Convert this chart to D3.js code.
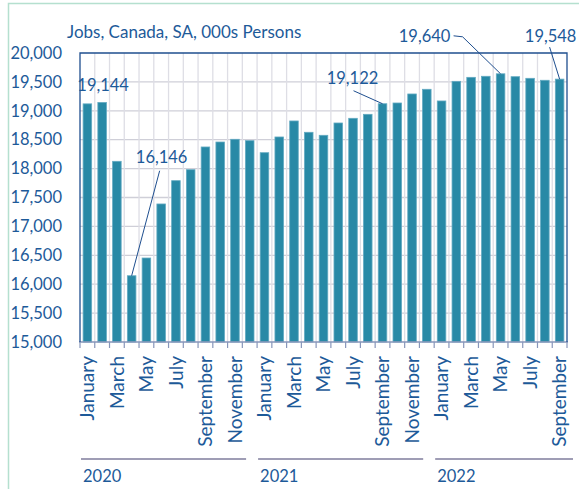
<!DOCTYPE html>
<meta charset="utf-8">
<style>
  body { margin: 0; background: #fff; }
  text { font-family: Lato, "Open Sans", sans-serif; fill: #1d5a99; }
</style>
<svg width="579" height="489"></svg>
<script src="https://d3js.org/d3.v7.min.js"></script>
<script>
var title = "Jobs, Canada, SA, 000s Persons";
var years = ["2020", "2021", "2022"];
var monthNames = ["January", "February", "March", "April", "May", "June",
  "July", "August", "September", "October", "November", "December"];
var jobs2020 = [19120, 19144, 18126, 16146, 16453, 17388, 17791, 17981, 18374, 18460, 18507, 18483];
var jobs2021 = [18275, 18547, 18824, 18628, 18576, 18789, 18870, 18939, 19122, 19135, 19291, 19372];
var jobs2022 = [19170, 19510, 19579, 19597, 19640, 19590, 19562, 19528, 19548];
var yTicks = d3.range(15000, 20001, 500);
var labelled = [1, 3, 20, 28, 32];

// flatten into one list of months
var data = [];
[jobs2020, jobs2021, jobs2022].forEach(function(arr, yi) {
  arr.forEach(function(v, mi) {
    data.push({ key: years[yi] + "-" + mi, year: years[yi], month: monthNames[mi], mi: mi, value: v });
  });
});

var svg = d3.select("svg"),
    margin = { top: 53, right: 12, bottom: 147, left: 80 },
    W = +svg.attr("width"), H = +svg.attr("height"),
    width = W - margin.left - margin.right,
    height = H - margin.top - margin.bottom;

// outer frame
svg.append("path")
    .attr("d", "M8.5," + H + "V3.5H" + W)
    .attr("fill", "none").attr("stroke", "#b5e0cf").attr("stroke-width", 1.5);

svg.append("text")
    .attr("x", 67).attr("y", 38)
    .style("font-size", "17px")
    .text(title);

var g = svg.append("g").attr("transform", "translate(" + margin.left + "," + margin.top + ")");

var x = d3.scaleBand().domain(data.map(function(d) { return d.key; })).range([0, width]).paddingInner(0.42).paddingOuter(0.21);
var y = d3.scaleLinear().domain([15000, 20000]).range([height, 0]);
var step = x.step();

// grid
g.selectAll(".hgrid").data(yTicks.slice(1, -1)).enter().append("line")
    .attr("x1", 0).attr("x2", width)
    .attr("y1", function(d) { return y(d); }).attr("y2", function(d) { return y(d); })
    .attr("stroke", "#cfcfd8").attr("stroke-width", 1.3);
g.selectAll(".vgrid").data(d3.range(1, data.length)).enter().append("line")
    .attr("x1", function(i) { return i * step; }).attr("x2", function(i) { return i * step; })
    .attr("y1", 0).attr("y2", height)
    .attr("stroke", "#dedee5").attr("stroke-width", 1.3);

// bars
g.selectAll(".bar").data(data).enter().append("rect")
    .attr("x", function(d) { return x(d.key); })
    .attr("width", x.bandwidth())
    .attr("y", function(d) { return y(d.value); })
    .attr("height", function(d) { return height - y(d.value); })
    .attr("fill", "#2889a6")
    .attr("stroke", "#63aac2").attr("stroke-width", 0.8);

// y axis
var yAxis = g.append("g")
    .call(d3.axisLeft(y).tickValues(yTicks).tickSize(0).tickPadding(18).tickFormat(d3.format(",")));
yAxis.select(".domain").remove();
yAxis.selectAll("text").style("font-size", "16.5px").style("font-family", "Lato").attr("fill", "#1d5a99");

// bottom axis + ticks
g.append("line").attr("x1", -1).attr("x2", width + 1).attr("y1", height).attr("y2", height)
    .attr("stroke", "#8796ba").attr("stroke-width", 1.5);
g.selectAll(".xtick").data(d3.range(0, data.length + 1)).enter().append("line")
    .attr("x1", function(i) { return i * step; }).attr("x2", function(i) { return i * step; })
    .attr("y1", height).attr("y2", height + 6)
    .attr("stroke", "#8796ba").attr("stroke-width", 1.2);

// plot border top/left/right
g.append("path")
    .attr("d", "M0," + height + "V0H" + width + "V" + height)
    .attr("fill", "none").attr("stroke", "#1f4f8f").attr("stroke-width", 1.3);

// month labels
g.selectAll(".mlab").data(data.filter(function(d) { return d.mi % 2 === 0; })).enter().append("text")
    .attr("transform", function(d) {
      return "translate(" + (x(d.key) + x.bandwidth() / 2) + "," + (height + 14) + ") rotate(-90)";
    })
    .attr("dy", "0.36em")
    .attr("text-anchor", "end")
    .style("font-size", "19px")
    .text(function(d) { return d.month; });

// year groups
years.forEach(function(yr, yi) {
  var ks = data.filter(function(d) { return d.year === yr; });
  var x0 = x(ks[0].key) - x.paddingOuter() * step + 1;
  var x1 = yi === years.length - 1 ? width + 6 : x0 + ks.length * step - 12;
  g.append("line").attr("x1", x0).attr("x2", x1).attr("y1", height + 117).attr("y2", height + 117)
      .attr("stroke", "#7f7c9c").attr("stroke-width", 1.6);
  g.append("text").attr("x", x0 + 2).attr("y", height + 140)
      .style("font-size", "16.5px").text(yr);
});

// value labels with leader lines
var offsets = {
  1: { dx: 1, dy: -11, line: null },
  3: { dx: 30, dy: -113, line: [[28, -105]] },
  20: { dx: -30, dy: -20, line: [[-29, -13]] },
  28: { dx: -76, dy: -32, line: [[-47, -38], [-38, -37]] },
  32: { dx: -9, dy: -37, line: [[-10, -32]] }
};
labelled.forEach(function(i) {
  var d = data[i], o = offsets[i];
  var cx = x(d.key) + x.bandwidth() / 2, cy = y(d.value);
  if (o.line) {
    var pts = o.line.map(function(p) { return [cx + p[0], cy + p[1]]; });
    pts.push([cx, cy]);
    g.append("path").attr("d", d3.line()(pts))
        .attr("fill", "none").attr("stroke", "#1f4f8f").attr("stroke-width", 1);
  }
  g.append("text")
      .attr("x", cx + o.dx).attr("y", cy + o.dy)
      .attr("text-anchor", "middle")
      .style("font-size", "16.5px")
      .text(d3.format(",")(d.value));
});
</script>
